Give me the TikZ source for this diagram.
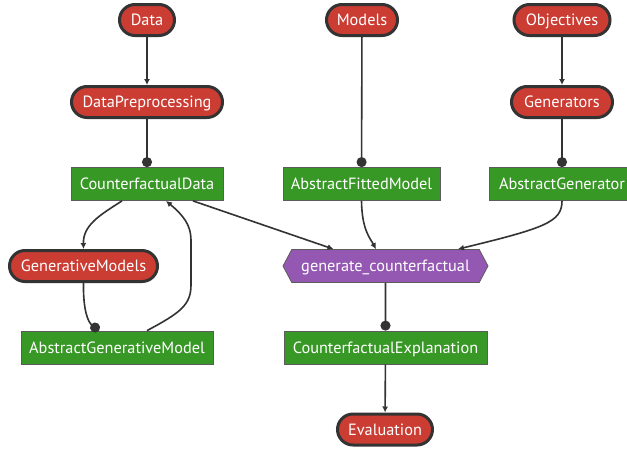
\documentclass[tikz,border=0pt]{standalone}
\usepackage{fontspec}
\setmainfont{PT Sans}
\usetikzlibrary{arrows.meta,shapes.symbols,calc}
\definecolor{jred}{HTML}{CB3C33}
\definecolor{jgreen}{HTML}{389826}
\definecolor{jpurple}{HTML}{9558B2}
\definecolor{edgec}{HTML}{333333}
\begin{document}
\begin{tikzpicture}[x=1pt,y=-1pt,
  lbl/.style={text=white,inner sep=0pt,font=\fontsize{16.3}{19}\selectfont,text height=14.4pt,text depth=3pt},
  term/.style={lbl,draw=edgec,line width=3pt,fill=jred,rounded corners=15.5pt,minimum height=31pt},
  typ/.style={lbl,draw=edgec!80,line width=0.8pt,fill=jgreen,minimum height=33pt},
  fn/.style={lbl,draw=edgec!80,line width=0.8pt,fill=jpurple,signal,signal to=west and east,signal pointer angle=124,minimum height=33pt},
  conn/.style={draw=edgec,line width=1.6pt},
  arr/.style={conn,-{Latex[length=6pt,width=6pt]}},
  dot/.style={conn,-{Circle[length=10pt]}}]
\useasboundingbox (0,0) rectangle (627,448);
\clip (0,0) rectangle (627,448);
\fill[white] (0,0) rectangle (627,448);
% nodes
\node[term,minimum width=55pt] (data) at (147,20) {Data};
\node[term,minimum width=151pt] (dp) at (147,102) {DataPreprocessing};
\node[term,minimum width=71pt] (models) at (362,20) {Models};
\node[term,minimum width=96pt] (obj) at (562,20) {Objectives};
\node[term,minimum width=101pt] (gens) at (562,102) {Generators};
\node[typ,minimum width=152pt] (cd) at (147,184) {CounterfactualData};
\node[typ,minimum width=157pt] (afm) at (361.5,184) {AbstractFittedModel};
\node[typ,minimum width=146pt] (ag) at (562,184) {AbstractGenerator};
\node[term,minimum width=148pt] (gm) at (83.5,266) {GenerativeModels};
\node[fn,minimum width=205pt] (gen) at (385.5,266) {generate\_counterfactual};
\node[typ,minimum width=192pt] (agm) at (117,347.5) {AbstractGenerativeModel};
\node[typ,minimum width=203pt] (ce) at (385.5,347.5) {CounterfactualExplanation};
\node[term,minimum width=95pt] (ev) at (385,429.5) {Evaluation};
% connectors
\draw[arr] (data) -- (dp);
\draw[arr] (obj) -- (gens);
\draw[arr] (ce) -- (ev);
\draw[dot] (dp) -- (cd);
\draw[dot] (models) -- (afm);
\draw[dot] (gens) -- (ag);
\draw[dot] (gen) -- (ce);
\draw[arr] ([xshift=-25pt]cd.south) .. controls (100,215) and (83,225) .. (gm.north);
\draw[dot] (gm.south) .. controls (83,310) and (88,322) .. ([xshift=-18pt]agm.north);
\draw[arr] ([xshift=30pt]agm.north) .. controls (180,313) and (191,305) .. (191,285) -- (191,240) .. controls (191,225) and (183,215) .. ([xshift=19pt]cd.south);
\draw[arr] ([xshift=46pt]cd.south) -- ([xshift=-52pt]gen.north);
\draw[arr] (afm.south) .. controls (362,230) and (370,238) .. ([xshift=-9.5pt]gen.north);
\draw[arr] (ag.south) .. controls (562,222) and (545,228) .. ([xshift=72.5pt]gen.north);
\end{tikzpicture}
\end{document}
